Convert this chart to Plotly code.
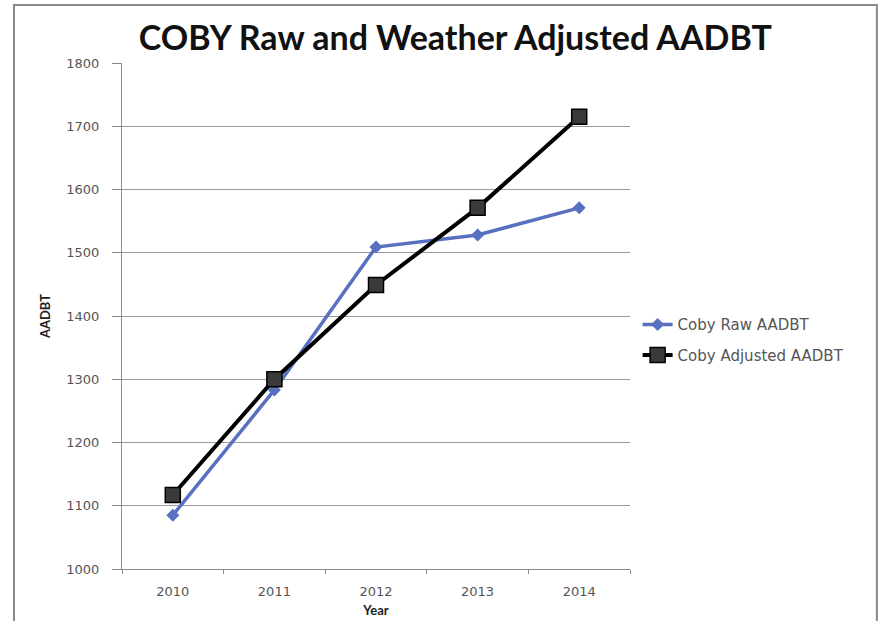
import plotly.graph_objects as go

# Annual average daily bicycle traffic (AADBT) for COBY
years = ["2010", "2011", "2012", "2013", "2014"]
raw_aadbt = [1085, 1283, 1509, 1528, 1571]
adjusted_aadbt = [1117, 1300, 1449, 1571, 1715]

y_ticks = [1000, 1100, 1200, 1300, 1400, 1500, 1600, 1700, 1800]

FONT = "Lato, Carlito, Calibri, sans-serif"
WIDE = "DejaVu Sans, Verdana, sans-serif"

fig = go.Figure()

fig.add_trace(go.Scatter(
    x=years, y=raw_aadbt, name="Coby Raw AADBT", mode="lines+markers",
    legendgroup="raw",
    line=dict(color="#5870C0", width=3.5),
    marker=dict(symbol="diamond", size=10, color="#5870C0"),
))
fig.add_trace(go.Scatter(
    x=years, y=adjusted_aadbt, name="Coby Adjusted AADBT", mode="lines+markers",
    legendgroup="adj",
    line=dict(color="#000000", width=4),
    marker=dict(symbol="square", size=15, color="#3a3a3a",
                line=dict(color="#000000", width=1.5)),
))

# Outer frame of the chart area
fig.add_shape(type="rect", xref="paper", yref="paper",
              x0=-0.2126, x1=1.486, y0=-0.3, y1=1.1146,
              line=dict(color="#8a8a8a", width=2), fillcolor="rgba(0,0,0,0)",
              layer="below")

fig.update_layout(
    width=886, height=621,
    margin=dict(l=122, r=256, t=63, b=52),
    paper_bgcolor="white", plot_bgcolor="white",
    font=dict(family=FONT, color="#444444", size=12),
    title=dict(text="<b>COBY Raw and Weather Adjusted AADBT</b>",
               x=0.514, xanchor="center", y=0.938, yanchor="middle",
               font=dict(family=FONT, size=34, color="#111111")),
    showlegend=True,
    legend=dict(x=1.015, y=0.453, xanchor="left", yanchor="middle",
                traceorder="grouped", tracegroupgap=8,
                font=dict(family=WIDE, size=15, color="#555555"),
                bgcolor="rgba(0,0,0,0)"),
    xaxis=dict(
        type="category", categoryorder="array", categoryarray=years,
        automargin=False,
        showgrid=False, showline=True, linecolor="#8a8a8a", linewidth=1,
        ticks="outside", tickson="boundaries", ticklen=4, tickcolor="#8a8a8a",
        ticklabelstandoff=10,
        tickfont=dict(family=WIDE, size=13, color="#555555"),
        title=dict(text="<b>Year</b>", standoff=8,
                   font=dict(family=FONT, size=13, color="#222222")),
        range=[-0.5, 4.5], zeroline=False,
    ),
    yaxis=dict(
        range=[1000, 1800], tickvals=y_ticks,
        automargin=False,
        showgrid=True, gridcolor="#9a9a9a", gridwidth=1,
        showline=True, linecolor="#8a8a8a", linewidth=1,
        ticks="outside", ticklen=9, tickcolor="#8a8a8a",
        ticklabelstandoff=10,
        tickfont=dict(family=WIDE, size=13, color="#555555"),
        title=dict(text="<b>AADBT</b>", standoff=12,
                   font=dict(family=FONT, size=13, color="#222222")),
        zeroline=False,
    ),
)

fig.write_html("out.html")
